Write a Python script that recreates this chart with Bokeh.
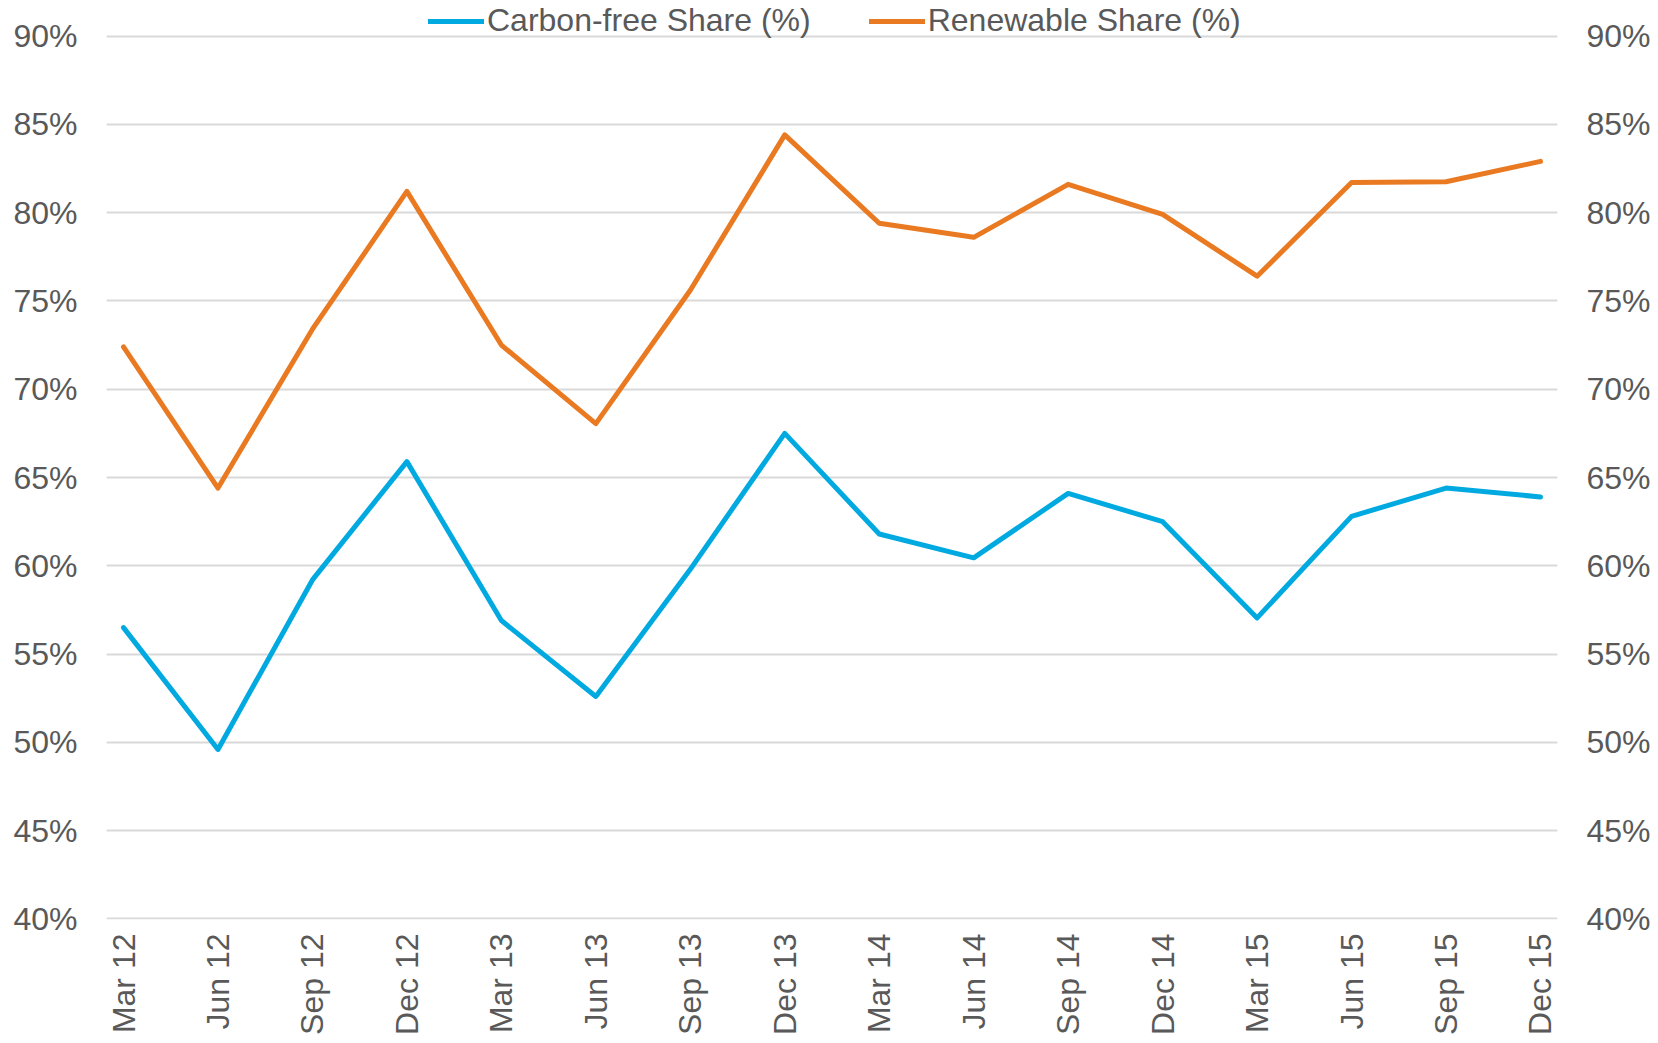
import math
from bokeh.plotting import figure
from bokeh.models import (LinearAxis, FixedTicker, PrintfTickFormatter, Range1d,
                          Legend, LegendItem)
from bokeh.embed import file_html
from bokeh.resources import INLINE

quarters = ["Mar 12", "Jun 12", "Sep 12", "Dec 12", "Mar 13", "Jun 13", "Sep 13", "Dec 13",
            "Mar 14", "Jun 14", "Sep 14", "Dec 14", "Mar 15", "Jun 15", "Sep 15", "Dec 15"]
carbon_free = [56.5, 49.6, 59.2, 65.9, 56.9, 52.6, 59.8, 67.5,
               61.8, 60.45, 64.1, 62.5, 57.05, 62.8, 64.4, 63.9]
renewable = [72.4, 64.4, 73.4, 81.2, 72.5, 68.05, 75.6, 84.4,
             79.4, 78.6, 81.6, 79.9, 76.4, 81.7, 81.75, 82.9]
y_ticks = [40, 45, 50, 55, 60, 65, 70, 75, 80, 85, 90]

FONT = "Liberation Sans"
TXT = "#595959"
GRID = "#D9D9D9"
BLUE = "#00AAE0"
ORANGE = "#E97A22"

xs = list(range(len(quarters)))

# frame spans canvas top (0) to 919; 40%..90% gridlines occupy 35..919
y_lo, y_hi_grid = 39.97, 90.03
px_per_unit = 884 / (y_hi_grid - y_lo)
y_hi = y_hi_grid + 35 / px_per_unit

p = figure(width=1658, height=1043, output_backend="svg", toolbar_location=None,
           x_range=Range1d(-0.18, len(quarters) - 1 + 0.18),
           y_range=Range1d(y_lo, y_hi),
           min_border_left=106, min_border_right=101, min_border_top=0, min_border_bottom=124)
p.outline_line_color = None
p.background_fill_color = "white"

r1 = p.line(xs, carbon_free, line_color=BLUE, line_width=5, line_join="round", line_cap="round")
r2 = p.line(xs, renewable, line_color=ORANGE, line_width=5, line_join="round", line_cap="round")

# x axis
xa = p.xaxis[0]
xa.ticker = FixedTicker(ticks=xs)
xa.major_label_overrides = {i: q for i, q in enumerate(quarters)}
xa.major_label_orientation = math.pi / 2
xa.axis_line_color = None
xa.major_tick_line_color = None
xa.minor_tick_line_color = None
xa.major_label_standoff = 8
xa.major_label_text_font = FONT
xa.major_label_text_font_size = "32px"
xa.major_label_text_color = TXT
p.xgrid.grid_line_color = None

# left y axis
ya = p.yaxis[0]
ya.ticker = FixedTicker(ticks=y_ticks)
ya.formatter = PrintfTickFormatter(format="%d%%")
ya.axis_line_color = None
ya.major_tick_line_color = None
ya.minor_tick_line_color = None
ya.major_label_standoff = 23
ya.major_label_text_font = FONT
ya.major_label_text_font_size = "32px"
ya.major_label_text_color = TXT
p.ygrid.ticker = FixedTicker(ticks=y_ticks)
p.ygrid.grid_line_color = GRID
p.ygrid.grid_line_width = 2

# right y axis
ra = LinearAxis(ticker=FixedTicker(ticks=y_ticks), formatter=PrintfTickFormatter(format="%d%%"))
ra.axis_line_color = None
ra.major_tick_line_color = None
ra.minor_tick_line_color = None
ra.major_label_standoff = 23
ra.major_label_text_font = FONT
ra.major_label_text_font_size = "32px"
ra.major_label_text_color = TXT
p.add_layout(ra, "right")

legend = Legend(items=[LegendItem(label="Carbon-free Share (%)", renderers=[r1]),
                       LegendItem(label="Renewable Share (%)", renderers=[r2])],
                orientation="horizontal", location=(322, 880))
legend.background_fill_alpha = 0
legend.border_line_color = None
legend.padding = 0
legend.margin = 0
legend.spacing = 58
legend.glyph_width = 56
legend.glyph_height = 24
legend.label_height = 24
legend.label_standoff = 3
legend.label_text_font = FONT
legend.label_text_font_size = "32px"
legend.label_text_color = TXT
p.add_layout(legend, "center")

open("out.html", "w").write(file_html(p, INLINE))
